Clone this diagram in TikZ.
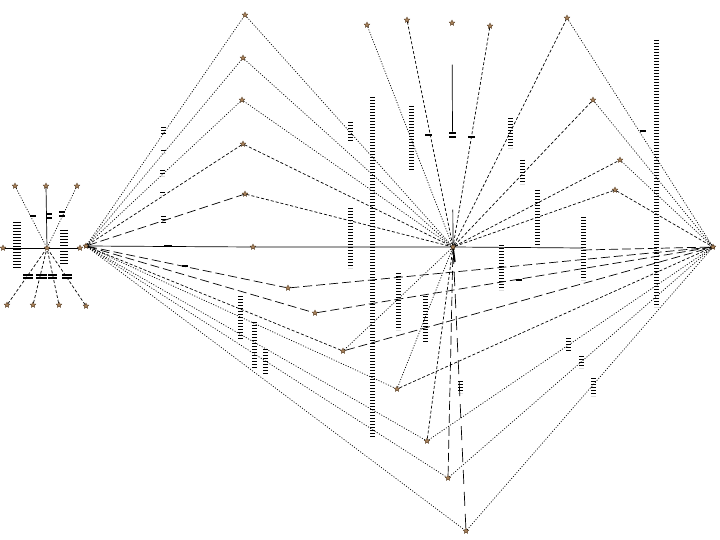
\documentclass[tikz,border=0pt]{standalone}
\usetikzlibrary{shapes.geometric}
\begin{document}
\begin{tikzpicture}[x=1pt,y=-1pt,
  nd/.style={star,star points=5,star point ratio=2.2,minimum size=6pt,inner sep=0pt,fill=brown!60!gray,draw=brown!40!black,line width=0.3pt},
  hub/.style={circle,minimum size=4pt,inner sep=0pt,fill=black},
  ln/.style={line width=0.7pt,black},
  dots/.style={ln,dash pattern=on 1pt off 1.6pt},
  dsh/.style={ln,dash pattern=on 3pt off 2pt},
  ldsh/.style={ln,dash pattern=on 9pt off 4pt},
  bars/.style={line width=5pt,dash pattern=on 1.1pt off 1.9pt},
  tick/.style={line width=1.1pt}]
\useasboundingbox (0,0) rectangle (720,540);
\fill[white] (0,0) rectangle (720,540);

% ---------- left cluster ----------
\node[nd] (Lc) at (47,248) {};
\node[nd] (T1) at (15,186) {};
\node[nd] (T2) at (46,186) {};
\node[nd] (T3) at (77,186) {};
\node[nd] (Ll) at (3,248) {};
\node[nd] (Lr) at (80,248) {};
\node[nd] (D1) at (7,305) {};
\node[nd] (D2) at (33,305) {};
\node[nd] (D3) at (59,305) {};
\node[nd] (D4) at (86,306) {};
\draw[dots] (T1) -- (Lc);
\draw[ln] (T2) -- (Lc);
\draw[dots] (T3) -- (Lc);
\draw[ln] (Ll) -- (Lc) -- (Lr);
\foreach \d in {D1,D2,D3,D4} \draw[dsh] (\d) -- (Lc);
\draw[line width=8pt,dash pattern=on 1.1pt off 1.9pt] (17,222) -- (17,268);
\draw[line width=8pt,dash pattern=on 1.1pt off 1.9pt] (64,230) -- (64,264);
\foreach \x/\y in {33/216,49/214,49/218,62/212,62/216} \draw[tick] (\x-3,\y) -- (\x+3,\y);
\foreach \a/\b in {23/33,36/47,48/57,62/72} {\draw[tick] (\a,275) -- (\b,275); \draw[tick] (\a,278) -- (\b,278);}

% ---------- main hubs ----------
\node[hub] (H) at (86,246) {};
\node[hub] (M) at (453,247) {};
\node[hub] (R) at (713,247) {};
\node[nd] at (H) {};
\node[nd] at (M) {};
\node[nd] at (R) {};
\node[nd] (P) at (253,247) {};

% apexes upper-left
\node[nd] (A1) at (245,15) {};
\node[nd] (A2) at (243,58) {};
\node[nd] (A3) at (242,100) {};
\node[nd] (A4) at (243,144) {};
\node[nd] (A5) at (245,194) {};
% apexes upper-right
\node[nd] (C1) at (567,18) {};
\node[nd] (C2) at (593,100) {};
\node[nd] (C3) at (620,160) {};
\node[nd] (C4) at (615,190) {};
% top row near M
\node[nd] (U1) at (367,25) {};
\node[nd] (U2) at (407,20) {};
\node[nd] (U3) at (452,23) {};
\node[nd] (U4) at (490,26) {};
% bottom nodes
\node[nd] (B1) at (288,288) {};
\node[nd] (B2) at (315,313) {};
\node[nd] (B3) at (343,351) {};
\node[nd] (B4) at (397,389) {};
\node[nd] (B5) at (427,441) {};
\node[nd] (B6) at (448,478) {};
\node[nd] (B7) at (466,531) {};

% H to apexes and apexes to M
\draw[dots] (H) -- (A1);
\draw[dots] (H) -- (A2);
\draw[dots] (H) -- (A3);
\draw[dsh] (H) -- (A4);
\draw[ldsh] (H) -- (A5);
\draw[dots] (A1) -- (M);
\draw[dots] (A2) -- (M);
\draw[dots] (A3) -- (M);
\draw[dsh] (A4) -- (M);
\draw[dsh] (A5) -- (M);
\draw[ln] (H) -- (P) -- (M);
\draw[ln] (M) -- (583,248);
\draw[ldsh] (583,250) -- (R);

% H to bottom nodes
\draw[ldsh] (H) -- (B1);
\draw[ldsh] (H) -- (B2);
\draw[dsh] (H) -- (B3);
\draw[dots] (H) -- (B4);
\draw[dots] (H) -- (B5);
\draw[dots] (H) -- (B6);
\draw[dots] (H) -- (B7);
% bottom nodes to R
\draw[ldsh] (B1) -- (R);
\draw[ldsh] (B2) -- (R);
\draw[ldsh] (B3) -- (R);
\draw[dsh] (B4) -- (R);
\draw[dots] (B5) -- (R);
\draw[dots] (B6) -- (R);
\draw[dots] (B7) -- (R);
% bottom nodes to M
\draw[dots] (B3) -- (M);
\draw[dots] (B4) -- (M);
\draw[dsh] (B5) -- (M);
\draw[ldsh] (B6) -- (M);
\draw[ln,dash pattern=on 14pt off 8pt] (B7) -- (M);
\draw[line width=1.4pt] (M) -- (455,262);

% top row to M
\draw[dots] (U1) -- (M);
\draw[dsh] (U2) -- (M);
\draw[ln,dash pattern=on 0pt off 40pt on 67pt off 78pt on 40pt] (U3) -- (M);
\draw[dsh] (U4) -- (M);

% upper-right apexes
\draw[dsh] (M) -- (C1);
\draw[dots] (C1) -- (R);
\draw[dsh] (M) -- (C2);
\draw[dots] (C2) -- (R);
\draw[dsh] (M) -- (C3);
\draw[dots] (C3) -- (R);
\draw[dsh] (M) -- (C4);
\draw[dsh] (C4) -- (R);

% ---------- illegible labels (bar stacks) ----------
\draw[bars] (372,97) -- (372,437);
\draw[bars] (350,122) -- (350,142);
\draw[bars] (350,208) -- (350,268);
\draw[bars] (411,106) -- (411,170);
\draw[bars] (510,118) -- (510,148);
\draw[bars] (656,40) -- (656,307);
\draw[bars] (583,217) -- (583,280);
\draw[bars] (537,190) -- (537,245);
\draw[bars] (522,160) -- (522,184);
\draw[bars] (501,245) -- (501,290);
\draw[bars] (398,273) -- (398,330);
\draw[bars] (425,296) -- (425,342);
\draw[bars] (240,296) -- (240,340);
\draw[bars] (254,322) -- (254,368);
\draw[bars] (265,349) -- (265,375);
\draw[bars] (460,381) -- (460,393);
\draw[bars] (568,338) -- (568,352);
\draw[bars] (581,356) -- (581,368);
\draw[bars] (593,378) -- (593,396);
\draw[bars] (163,127) -- (163,134);
\draw[bars] (163,150) -- (163,153);
\draw[bars] (162,170) -- (162,176);
\draw[bars] (162,192) -- (162,195);
\draw[bars] (163,216) -- (163,224);
\draw[tick] (164,246) -- (172,246);
\draw[tick] (425,135) -- (432,135);
\draw[tick] (449,133) -- (456,133);
\draw[tick] (449,137) -- (456,137);
\draw[tick] (468,137) -- (475,137);
\draw[tick] (640,131) -- (646,131);
\draw[tick] (182,266) -- (188,266);
\draw[tick] (516,280) -- (522,280);
\end{tikzpicture}
\end{document}
